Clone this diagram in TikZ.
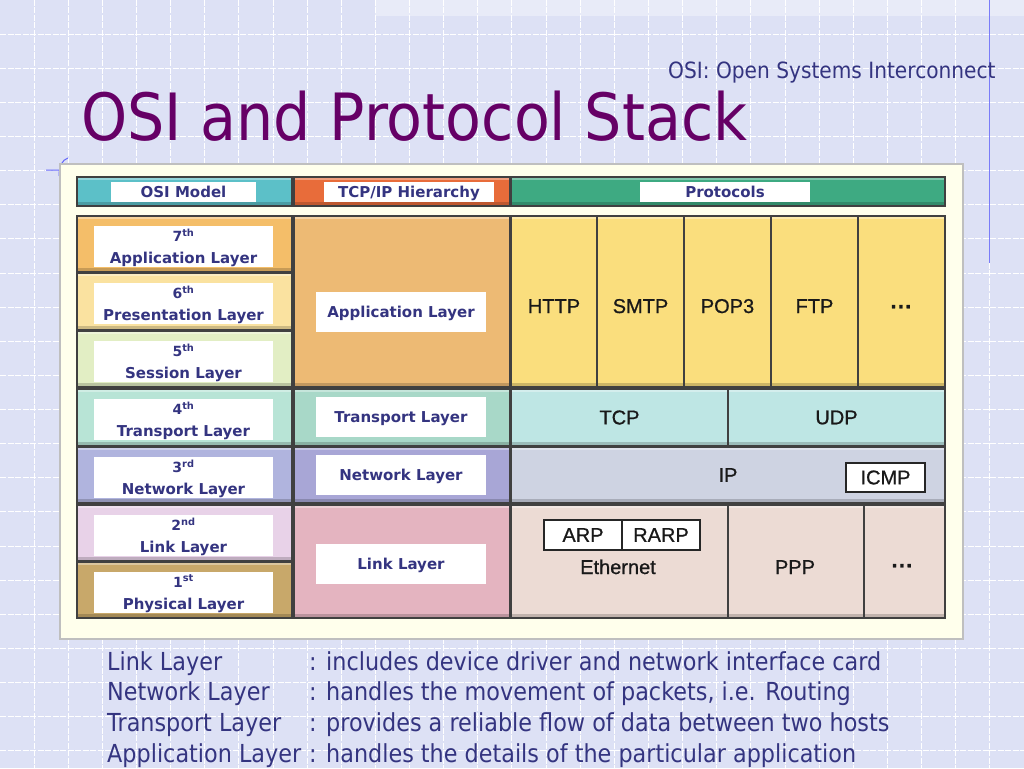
\documentclass[tikz,border=0pt]{standalone}
\usepackage{fontspec}
\newfontfamily\slidefont[FakeStretch=0.9]{DejaVu Sans}
\newfontfamily\boxfont{DejaVu Sans}
\newfontfamily\protofont[FakeBold=0.8]{Liberation Sans}
\usetikzlibrary{positioning}
\definecolor{slidebg}{RGB}{221,225,245}
\definecolor{panelbg}{RGB}{255,255,236}
\definecolor{titlepurple}{RGB}{102,0,102}
\definecolor{navy}{RGB}{52,52,128}
\definecolor{hdosi}{RGB}{92,192,200}
\definecolor{hdtcp}{RGB}{232,108,58}
\definecolor{hdpro}{RGB}{62,170,130}
\definecolor{osiA}{RGB}{244,190,105}
\definecolor{osiB}{RGB}{250,226,160}
\definecolor{osiC}{RGB}{226,238,196}
\definecolor{osiD}{RGB}{184,228,214}
\definecolor{osiE}{RGB}{176,180,222}
\definecolor{osiF}{RGB}{232,210,232}
\definecolor{osiG}{RGB}{200,168,106}
\definecolor{tcpA}{RGB}{237,186,116}
\definecolor{tcpD}{RGB}{168,216,200}
\definecolor{tcpE}{RGB}{168,166,214}
\definecolor{tcpF}{RGB}{228,180,192}
\definecolor{proA}{RGB}{250,222,125}
\definecolor{proD}{RGB}{190,230,228}
\definecolor{proE}{RGB}{206,211,226}
\definecolor{proF}{RGB}{236,219,212}
\tikzset{cell/.style={draw=black!75, line width=1.2pt, inner sep=0, outer sep=0,
  path picture={
    \fill[white, opacity=.35] (path picture bounding box.north west)
      rectangle ([yshift=-3pt]path picture bounding box.north east);
    \fill[black, opacity=.18] (path picture bounding box.south west)
      rectangle ([yshift=4pt]path picture bounding box.south east);}},
  tag/.style={fill=white, inner sep=0, text=navy, align=center, text depth=0pt,
    font=\boxfont\bfseries\fontsize{15}{22}\selectfont},
  proto/.style={inner sep=0, text=black!90, font=\protofont\fontsize{20}{24}\selectfont},
  dots/.style={proto, anchor=base, font=\protofont\bfseries\fontsize{22}{22}\selectfont},
  subbox/.style={proto, draw=black!85, fill=white, line width=1.2pt, outer sep=0},
  desc/.style={inner sep=0, text=navy, font=\slidefont\fontsize{24.8}{28}\selectfont},
  gridline/.style={white, line width=1pt, dash pattern=on 6pt off 1.5pt}}

\begin{document}
\begin{tikzpicture}[x=1pt, y=-1pt]
    \useasboundingbox (0,0) rectangle (1024,768);
    % slide background
    \fill[slidebg] (0,0) rectangle (1024,768);
    \fill[white, opacity=.35] (375,0) rectangle (1024,16);
    \foreach \k in {1,...,29}
        \draw[gridline] (\k*34.13,0) -- (\k*34.13,768);
    \foreach \k in {1,...,22}
        \draw[gridline] (0,\k*34.13) -- (1024,\k*34.13);
    \draw[blue!45!slidebg, line width=1.2pt] (989.5,0) -- (989.5,263);
    \draw[blue!55!slidebg, line width=1pt] (46,170) -- (60,170)
        (59,176) .. controls (59,166) and (62,160) .. (68,158);

    \node[anchor=base west, inner sep=0, text=navy,
        font=\slidefont\fontsize{22.4}{26}\selectfont] (subtitle) at (668,78)
        {OSI: Open Systems Interconnect};
    \node[anchor=base west, inner sep=0, text=titlepurple,
        font=\slidefont\fontsize{65.2}{70}\selectfont] (title) at (81,140)
        {OSI and Protocol Stack};

    \node[draw=black!25, line width=1.5pt, fill=panelbg, minimum width=903,
        minimum height=475, inner sep=0] (panel) at (511.5,401.5) {};

    % header row
    \node[cell, fill=hdosi, minimum width=215, minimum height=29] (hd-osi) at (184.5,191.5) {};
    \node[cell, fill=hdtcp, minimum width=216, minimum height=29] (hd-tcp) at (402,191.5) {};
    \node[cell, fill=hdpro, minimum width=434, minimum height=29] (hd-pro) at (728,191.5) {};
    \node[tag, minimum width=145, minimum height=20] (hd-osi-tag) at (183.5,192) {OSI Model};
    \node[tag, minimum width=170, minimum height=20] (hd-tcp-tag) at (409,192) {TCP/IP Hierarchy};
    \node[tag, minimum width=170, minimum height=20] (hd-pro-tag) at (725,192) {Protocols};

    % OSI model column
    \foreach \ya/\yb/\col/\num/\ord/\lname [evaluate={\yc=(\ya+\yb)/2; \hh=\yb-\ya;}] in
        {216/272/osiA/7/th/Application Layer, 273/330/osiB/6/th/Presentation Layer,
         331/387/osiC/5/th/Session Layer, 389/446/osiD/4/th/Transport Layer,
         447/503/osiE/3/rd/Network Layer, 505/561/osiF/2/nd/Link Layer,
         562/618/osiG/1/st/Physical Layer}{
        \node[cell, fill=\col, minimum width=215, minimum height=\hh] (osi-\num) at (184.5,\yc) {};
        \node[tag, minimum width=179, minimum height=41] (osi-tag-\num) at (183.5,\ya+30)
            {{\fontsize{14}{14}\selectfont\num\textsuperscript{\ord}}\\\lname};
    }

    % TCP/IP hierarchy column
    \foreach \ya/\yb/\col/\key/\ty/\lname [evaluate={\yc=(\ya+\yb)/2; \hh=\yb-\ya;}] in
        {216/387/tcpA/app/312/Application Layer, 389/446/tcpD/trans/417/Transport Layer,
         447/503/tcpE/net/474.5/Network Layer, 505/618/tcpF/link/564/Link Layer}{
        \node[cell, fill=\col, minimum width=216, minimum height=\hh] (tcp-\key) at (402,\yc) {};
        \node[tag, minimum width=170, minimum height=40] (tcp-tag-\key) at (401,\ty) {\lname};
    }

    % protocols
    \foreach \xa/\xb/\txt [count=\i, evaluate={\xc=(\xa+\xb)/2; \ww=\xb-\xa;}] in
        {511/597/HTTP, 597/684/SMTP, 684/771/POP3, 771/858/FTP}{
        \node[cell, fill=proA, minimum width=\ww, minimum height=171] (pro-app-\i) at (\xc,301.5) {};
        \node[proto, anchor=base] (pro-app-txt-\i) at (\xc,313) {\txt};
    }
    \node[cell, fill=proA, minimum width=87, minimum height=171] (pro-app-5) at (901.5,301.5) {};
    \node[dots] (pro-app-txt-5) at (901.5,314) {···};
    \node[cell, proto, fill=proD, minimum width=217, minimum height=57] (pro-tcp) at (619.5,417.5) {TCP};
    \node[cell, proto, fill=proD, minimum width=217, minimum height=57] (pro-udp) at (836.5,417.5) {UDP};
    \node[cell, proto, fill=proE, minimum width=434, minimum height=56] (pro-ip) at (728,475) {IP};
    \node[subbox, minimum width=79, minimum height=29] (icmp) at (885.5,477.5) {ICMP};
    \node[cell, fill=proF, minimum width=217, minimum height=113] (pro-eth) at (619.5,561.5) {};
    \node[cell, fill=proF, minimum width=136, minimum height=113] (pro-ppp) at (796,561.5) {};
    \node[cell, fill=proF, minimum width=81, minimum height=113] (pro-more) at (904.5,561.5) {};
    \node[subbox, minimum width=78, minimum height=30] (arp) at (583,535) {ARP};
    \node[subbox, minimum width=78, minimum height=30, right=0pt of arp] (rarp) {RARP};
    \node[proto, anchor=base] (eth) at (618,574) {Ethernet};
    \node[proto, anchor=base] (ppp) at (795,574) {PPP};
    \node[dots] (more) at (902.5,573) {···};

    % notes below the panel
    \foreach \term/\desc [count=\i] in
        {Link Layer/{: includes device driver and network interface card},
         Network Layer/{: handles the movement of packets, i.e. Routing},
         Transport Layer/{: provides a reliable flow of data between two hosts},
         Application Layer/{: handles the details of the particular application}}{
        \node[desc, anchor=base west] (term-\i) at (107,670+30.7*\i-30.7) {\term};
        \node[desc, anchor=base west] (note-\i) at (309,670+30.7*\i-30.7) {\desc};
    }
\end{tikzpicture}
\end{document}
